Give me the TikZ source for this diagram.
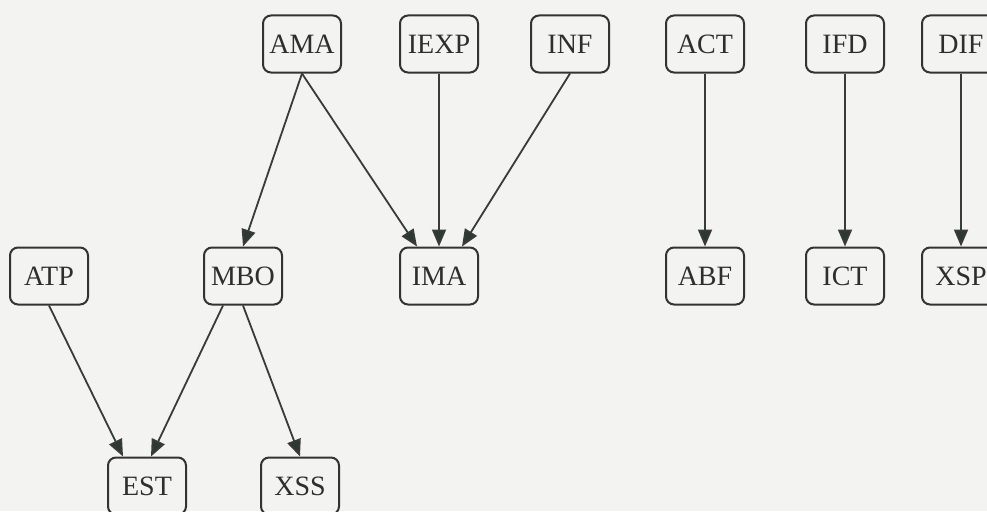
\documentclass[tikz,border=0pt]{standalone}
\usepackage{fontspec}
\setmainfont{Liberation Serif}
\usetikzlibrary{arrows.meta}
\definecolor{bgc}{HTML}{F3F3F1}
\definecolor{boxc}{HTML}{333333}
\definecolor{linec}{HTML}{383B39}
\definecolor{tipc}{HTML}{2C3933}
\definecolor{txtc}{HTML}{2E2E2E}
\begin{document}
\begin{tikzpicture}[x=1pt,y=-1pt,
  box/.style={draw=boxc, line width=2pt, rounded corners=8pt, minimum width=78pt,
    minimum height=57pt, inner sep=2pt, text=txtc, font=\fontsize{28}{28}\selectfont},
  edge/.style={draw=linec, line width=1.8pt,
    -{Triangle[length=17pt,width=14pt,fill=tipc]}}]
\fill[bgc] (0,0) rectangle (987,511);
\useasboundingbox (0,0) rectangle (987,511);
% top row
\node[box] (ama)  at (302,44) {AMA};
\node[box] (iexp) at (439,44) {IEXP};
\node[box] (inf)  at (570,44) {INF};
\node[box] (act)  at (705,44) {ACT};
\node[box] (ifd)  at (845,44) {IFD};
\node[box] (dif)  at (961,44) {DIF};
% middle row
\node[box] (atp)  at (49,276)  {ATP};
\node[box] (mbo)  at (243,276) {MBO};
\node[box] (ima)  at (439,276) {IMA};
\node[box] (abf)  at (705,276) {ABF};
\node[box] (ict)  at (845,276) {ICT};
\node[box] (xsp)  at (961,276) {XSP};
% bottom row
\node[box] (est)  at (147,486) {EST};
\node[box] (xss)  at (300,486) {XSS};
% edges
\draw[edge] (ama.south) -- (mbo.north);
\draw[edge] (ama.south) -- ([xshift=-22pt]ima.north);
\draw[edge] (iexp.south) -- (ima.north);
\draw[edge] (inf.south) -- ([xshift=23pt]ima.north);
\draw[edge] (act.south) -- (abf.north);
\draw[edge] (ifd.south) -- (ict.north);
\draw[edge] (dif.south) -- (xsp.north);
\draw[edge] (atp.south) -- ([xshift=-24pt]est.north);
\draw[edge] ([xshift=-20pt]mbo.south) -- ([xshift=4pt]est.north);
\draw[edge] (mbo.south) -- (xss.north);
\end{tikzpicture}
\end{document}
